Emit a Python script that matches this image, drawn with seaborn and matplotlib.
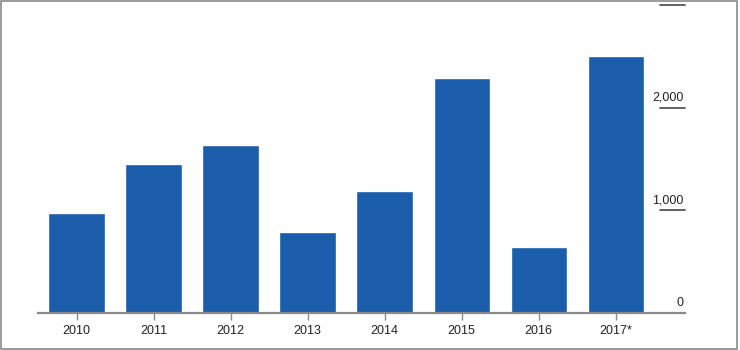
import matplotlib
matplotlib.use("Agg")
import matplotlib.pyplot as plt
import seaborn as sns
import pandas as pd
from matplotlib.patches import Rectangle

years = ["2010", "2011", "2012", "2013", "2014", "2015", "2016", "2017*"]
values = [975, 1455, 1640, 790, 1190, 2285, 645, 2500]
y_ticks = [0, 1000, 2000, 3000]
y_tick_labels = ["0", "1,000", "2,000", "3,000"]

sns.set_theme(style="white")
plt.rcParams["font.family"] = ["Liberation Sans", "DejaVu Sans"]

df = pd.DataFrame({"year": years, "value": values})

fig = plt.figure(figsize=(7.4, 3.5), dpi=100)
ax = fig.add_axes([38 / 740, 37 / 350, 647 / 740, 308 / 350])
sns.barplot(data=df, x="year", y="value", color="#1b5daa", saturation=1,
            width=0.73, ax=ax)

ax.set_xlim(-0.5, 7.9)
ax.set_ylim(0, 3000)
ax.set_xlabel("")
ax.set_ylabel("")
for s in ["top", "right", "left"]:
    ax.spines[s].set_visible(False)
ax.spines["bottom"].set_color("#8a8a8a")
ax.spines["bottom"].set_linewidth(1.6)
ax.spines["bottom"].set_zorder(5)
ax.tick_params(axis="x", bottom=True, length=5, width=1, color="#8a8a8a",
               labelsize=9, labelcolor="#222222", pad=4)
ax.set_yticks([])

ytr = ax.get_yaxis_transform()
for v, lab in zip(y_ticks, y_tick_labels):
    if v > 0:
        ax.plot([0.961, 1.0], [v, v], transform=ytr, color="#555555",
                lw=1.3, clip_on=False)
    ax.annotate(lab, xy=(1.0, v), xycoords=ytr, xytext=(-1, 3),
                textcoords="offset points", ha="right", va="bottom",
                fontsize=9, color="#222222", annotation_clip=False)

fig.patches.append(Rectangle((0.001, 0.002), 0.995, 0.996, transform=fig.transFigure,
                             fill=False, edgecolor="#8a8a8a", lw=1.2))

fig.savefig("out.png", dpi=100)
